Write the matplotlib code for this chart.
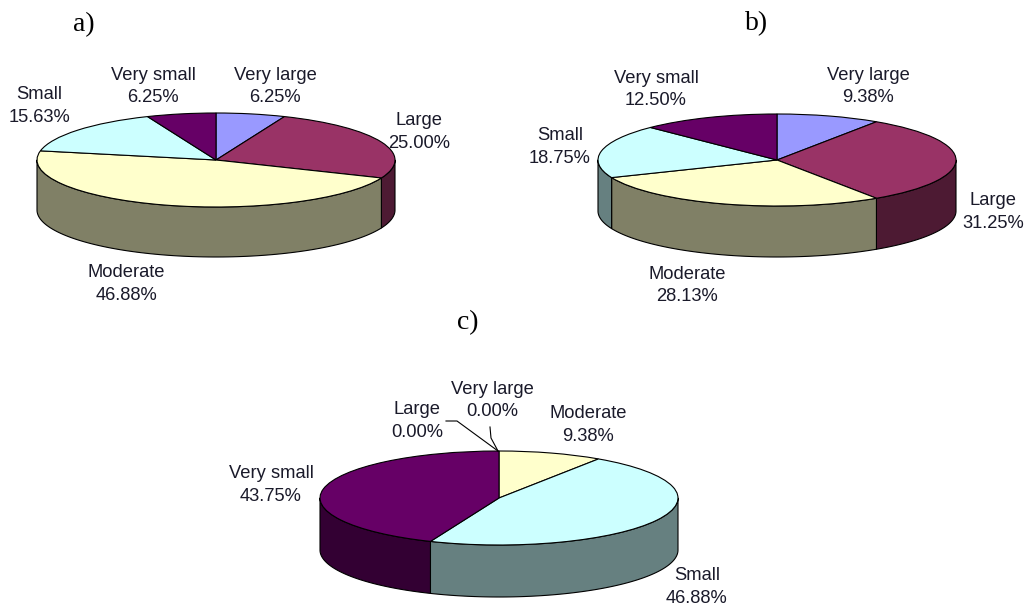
import numpy as np
import matplotlib
matplotlib.use("Agg")
import matplotlib.pyplot as plt

W, H = 1027, 608

cats_a = ["Very large", "Large", "Moderate", "Small", "Very small"]
vals_a = [6.25, 25.00, 46.88, 15.63, 6.25]
cats_b = ["Very large", "Large", "Moderate", "Small", "Very small"]
vals_b = [9.38, 31.25, 28.13, 18.75, 12.50]
cats_c = ["Very large", "Large", "Moderate", "Small", "Very small"]
vals_c = [0.00, 0.00, 9.38, 46.88, 43.75]

top_colors = {"Very large": "#9999FF", "Large": "#993366", "Moderate": "#FFFFCC",
              "Small": "#CCFFFF", "Very small": "#660066"}
side_colors = {"Very large": "#4D4D80", "Large": "#4D1A33", "Moderate": "#808066",
               "Small": "#668080", "Very small": "#330033"}

# label centres in pixels, one per category
pos_a = [(275, 86.5), (419, 132), (126, 284), (39, 106), (153, 86.5)]
pos_b = [(868, 86.5), (993, 212), (687, 285.5), (560, 147), (656, 89.5)]
pos_c = [(492, 400.5), (417, 421), (588, 425), (697, 587), (271, 485)]

plt.rcParams["font.family"] = ["Liberation Sans", "DejaVu Sans"]
fig = plt.figure(figsize=(W / 100, H / 100), dpi=100, facecolor="white")


def pie3d(cats, vals, cx, cy, rx, ry, depth, label_pos):
    # axes in pixel layout, unit circle squashed into an ellipse
    d = depth / ry
    ax = fig.add_axes([(cx - 1.05 * rx) / W, 1 - (cy + ry + depth + 0.05 * ry) / H,
                       2.1 * rx / W, (2.1 * ry + depth) / H])
    frac = np.array(vals) / sum(vals)
    edges = np.concatenate([[0], np.cumsum(frac) * 360])

    # side wall, only the part facing the viewer
    for i, cat in enumerate(cats):
        a0, a1 = max(edges[i], 90), min(edges[i + 1], 270)
        if a1 <= a0:
            continue
        t = np.radians(np.linspace(a0, a1, 100))
        x, y = np.sin(t), np.cos(t)
        ax.fill(np.r_[x, x[::-1]], np.r_[y, y[::-1] - d], fc=side_colors[cat],
                ec="black", lw=0.8, joinstyle="round", zorder=1)

    wedges, _ = ax.pie(vals, colors=[top_colors[c] for c in cats], startangle=90,
                       counterclock=False, normalize=True,
                       wedgeprops=dict(edgecolor="black", linewidth=0.8))
    for w in wedges:
        w.set_zorder(2)
    ax.set_aspect("auto")
    ax.set_xlim(-1.05, 1.05)
    ax.set_ylim(-1.05 - d, 1.05)
    ax.axis("off")

    for cat, v, (px, py) in zip(cats, vals, label_pos):
        fig.text(px / W, 1 - py / H, f"{cat}\n{v:.2f}%", ha="center", va="center",
                 fontsize=13.2, color="#1a1a2a", linespacing=1.4)


pie3d(cats_a, vals_a, 216, 160, 179, 47, 50, pos_a)
pie3d(cats_b, vals_b, 777, 160, 179, 46, 51, pos_b)
pie3d(cats_c, vals_c, 499, 498, 179, 47, 52, pos_c)

# leader lines for the two empty slices in c
overlay = fig.add_axes([0, 0, 1, 1], facecolor="none")
overlay.set_xlim(0, W)
overlay.set_ylim(H, 0)
overlay.axis("off")
overlay.plot([446, 457, 498], [421, 421, 451], color="black", lw=0.8)
overlay.plot([490, 491, 498], [427, 438, 451], color="black", lw=0.8)

for s, x, y in [("a)", 84, 25), ("b)", 757, 24), ("c)", 468, 323)]:
    overlay.text(x, y, s, ha="center", va="center", fontsize=20,
                 family=["Liberation Serif"], color="black")

fig.savefig("out.png", dpi=100)
